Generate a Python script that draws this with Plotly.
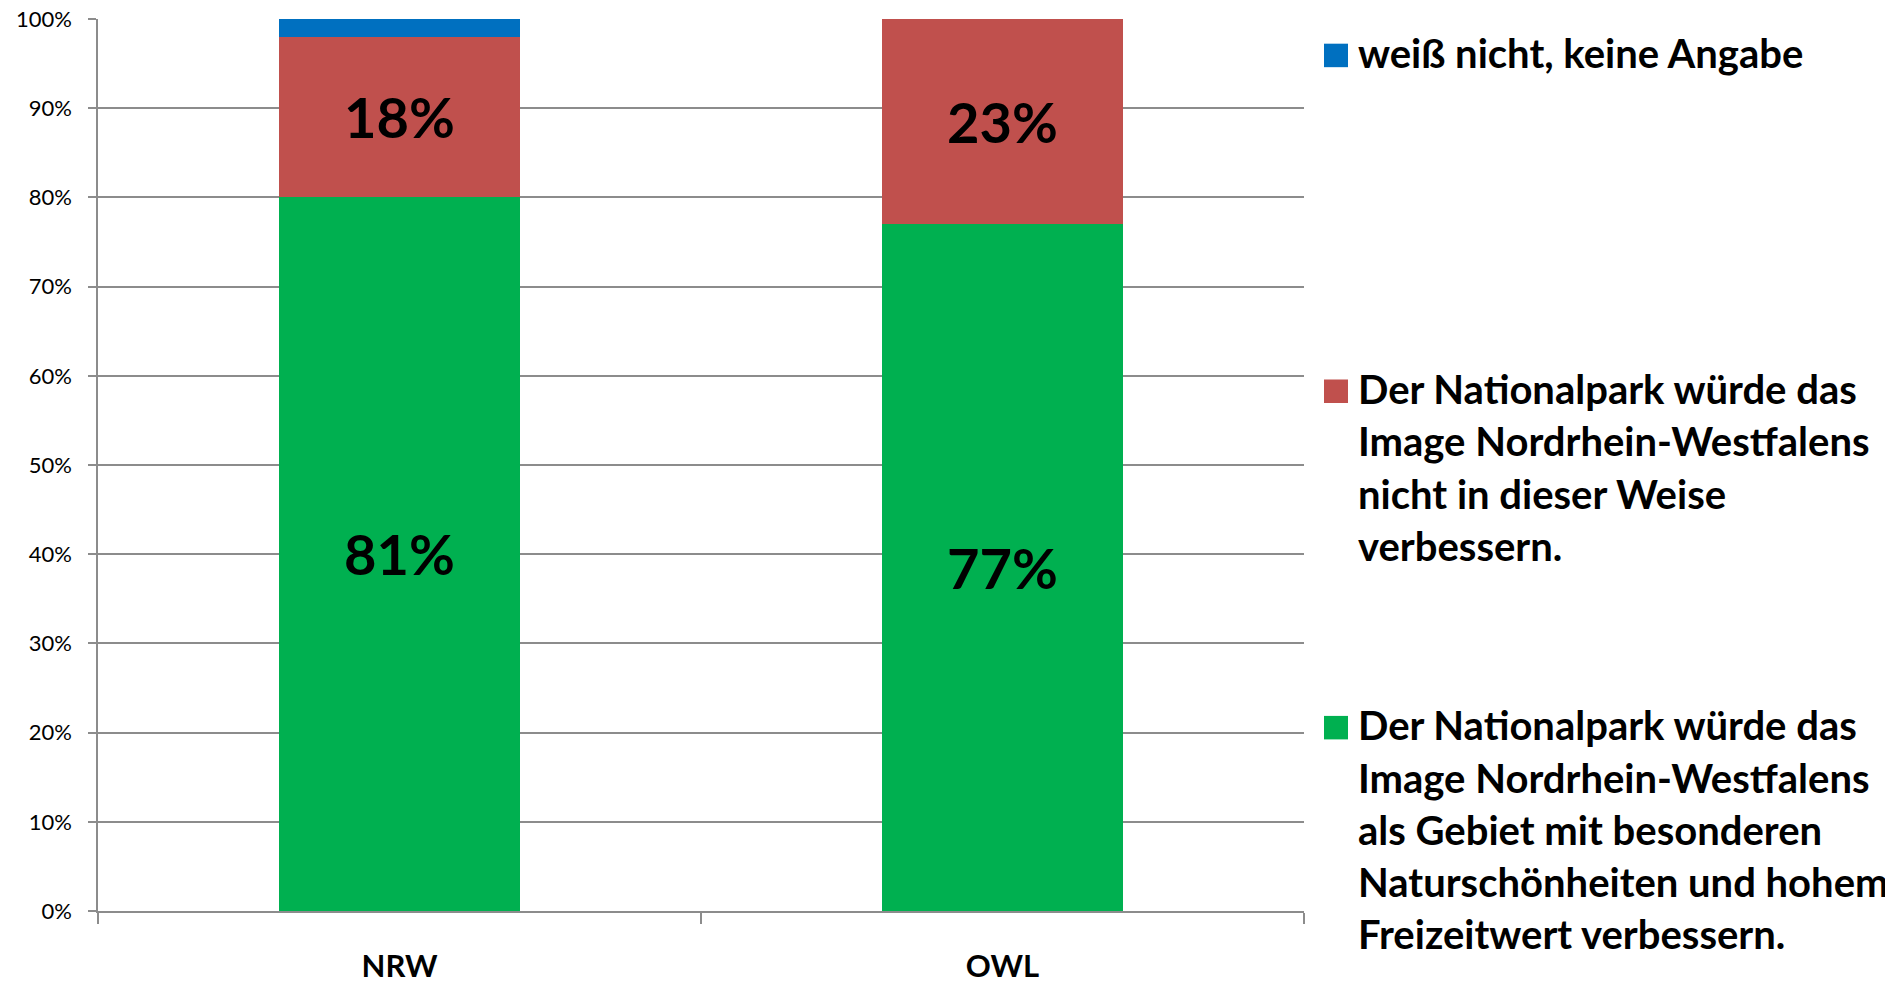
import plotly.graph_objects as go

# Survey data (share of respondents, %)
regions = ["NRW", "OWL"]
verbessern = [80.1, 77.0]
nicht_verbessern = [17.9, 23.0]
weiss_nicht = [2.0, 0.0]

# Labels as printed on the bars
verbessern_text = ["81%", "77%"]
nicht_verbessern_text = ["18%", "23%"]

y_ticks = [0, 10, 20, 30, 40, 50, 60, 70, 80, 90, 100]
y_tick_labels = ["0%", "10%", "20%", "30%", "40%", "50%",
                 "60%", "70%", "80%", "90%", "100%"]

# Legend entries, top to bottom, wrapped like the original
legend_entries = [
    ("#0070C0", ["weiß nicht, keine Angabe"]),
    ("#C0504D", ["Der Nationalpark würde das",
                 "Image Nordrhein-Westfalens",
                 "nicht in dieser Weise",
                 "verbessern."]),
    ("#00B050", ["Der Nationalpark würde das",
                 "Image Nordrhein-Westfalens",
                 "als Gebiet mit besonderen",
                 "Naturschönheiten und hohem",
                 "Freizeitwert verbessern."]),
]

FONT = "Lato"
# the page body keeps the browser's default 8px margin
PAGE_MARGIN = 8
W, H = 1893 - PAGE_MARGIN, 985 - PAGE_MARGIN
# plot area in page pixels
PLOT_LEFT, PLOT_RIGHT = 98, 1304
PLOT_TOP, PLOT_BOTTOM = 18.5, 911


def px_x(x):
    return (x - PLOT_LEFT) / (PLOT_RIGHT - PLOT_LEFT)


def px_y(y):
    return (PLOT_BOTTOM - y) / (PLOT_BOTTOM - PLOT_TOP)


label_font = {"family": FONT, "size": 56, "color": "black", "weight": "bold"}

fig = go.Figure()
fig.add_trace(
    go.Bar(
        x=regions,
        y=verbessern,
        marker={"color": "#00B050", "line": {"width": 0}},
        text=verbessern_text,
        textposition="inside",
        insidetextanchor="middle",
        textfont=label_font,
        hoverinfo="skip",
    )
)
fig.add_trace(
    go.Bar(
        x=regions,
        y=nicht_verbessern,
        marker={"color": "#C0504D", "line": {"width": 0}},
        text=nicht_verbessern_text,
        textposition="inside",
        insidetextanchor="middle",
        textfont=label_font,
        hoverinfo="skip",
    )
)
fig.add_trace(
    go.Bar(
        x=regions,
        y=weiss_nicht,
        marker={"color": "#0070C0", "line": {"width": 0}},
        hoverinfo="skip",
    )
)

# Hand-built legend so the swatches and line spacing match the original
first_baseline = [66.7, 402.7, 739.3]
line_step = 52.3
annotations = []
shapes = []
for (color, lines), base in zip(legend_entries, first_baseline):
    shapes.append(
        dict(
            type="rect", xref="paper", yref="paper",
            x0=px_x(1324), x1=px_x(1348),
            y0=px_y(base), y1=px_y(base - 23.5),
            fillcolor=color, line={"width": 0},
        )
    )
    for i, line in enumerate(lines):
        annotations.append(
            dict(
                text=line, xref="paper", yref="paper",
                x=px_x(1356), y=px_y(base + i * line_step - 14),
                xanchor="left", yanchor="middle", showarrow=False,
                font={"family": FONT, "size": 40, "color": "black", "weight": "bold"},
            )
        )

fig.update_layout(
    width=W,
    height=H,
    barmode="stack",
    bargap=0.6,
    showlegend=False,
    plot_bgcolor="white",
    paper_bgcolor="white",
    margin={"l": PLOT_LEFT - PAGE_MARGIN, "r": W + PAGE_MARGIN - PLOT_RIGHT,
            "t": PLOT_TOP - PAGE_MARGIN, "b": H + PAGE_MARGIN - PLOT_BOTTOM,
            "pad": 0},
    font={"family": FONT, "color": "black"},
    annotations=annotations,
    shapes=shapes,
)
fig.update_yaxes(
    range=[0, 100],
    tickvals=y_ticks,
    ticktext=y_tick_labels,
    tickfont={"family": FONT, "size": 22, "color": "black"},
    ticks="outside",
    ticklen=8,
    tickcolor="#8C8C8C",
    tickwidth=1.5,
    ticklabelstandoff=12,
    ticklabeloverflow="allow",
    showgrid=True,
    gridcolor="#8C8C8C",
    gridwidth=1.5,
    showline=True,
    linecolor="#8C8C8C",
    linewidth=1.5,
    zeroline=False,
    automargin=False,
)
fig.update_xaxes(
    tickfont={"family": FONT, "size": 31, "color": "black", "weight": "bold"},
    ticks="outside",
    tickson="boundaries",
    ticklen=11,
    tickcolor="#8C8C8C",
    tickwidth=1.5,
    ticklabelstandoff=27,
    ticklabeloverflow="allow",
    showgrid=False,
    showline=True,
    linecolor="#8C8C8C",
    linewidth=1.5,
    automargin=False,
)

fig.write_html("out.html")
